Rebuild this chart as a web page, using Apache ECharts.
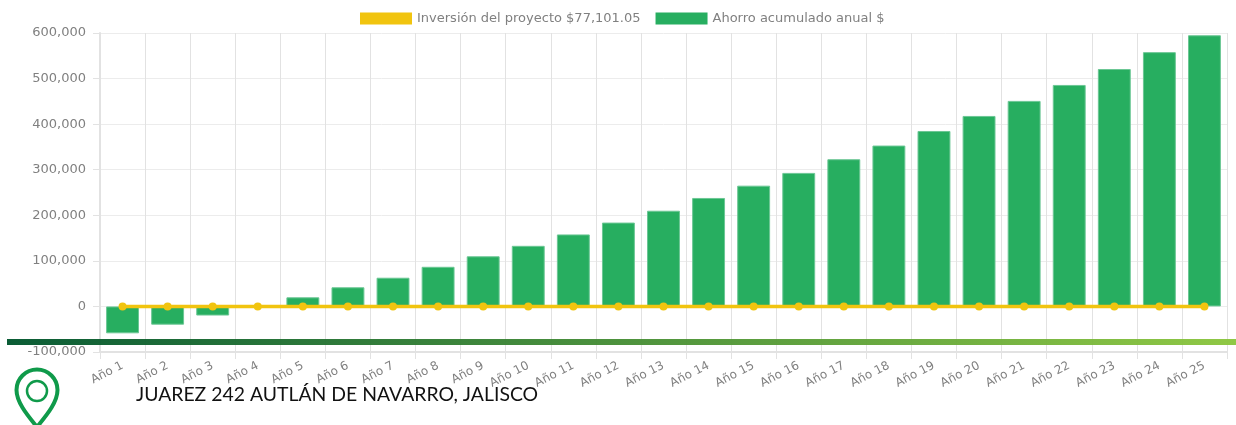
<!DOCTYPE html>
<html>
<head>
<meta charset="utf-8">
<title>Ahorro acumulado</title>
<script src="https://cdn.jsdelivr.net/npm/echarts@6/dist/echarts.min.js"></script>
<style>
  html, body { margin: 0; padding: 0; background: #fff; }
  #chart { width: 1236px; height: 425px; }
</style>
</head>
<body>
<div id="chart"></div>
<script>
const categories = ['Año 1', 'Año 2', 'Año 3', 'Año 4', 'Año 5', 'Año 6', 'Año 7', 'Año 8', 'Año 9', 'Año 10',
  'Año 11', 'Año 12', 'Año 13', 'Año 14', 'Año 15', 'Año 16', 'Año 17', 'Año 18', 'Año 19', 'Año 20',
  'Año 21', 'Año 22', 'Año 23', 'Año 24', 'Año 25'];
const ahorro = [-59000, -40000, -20000, 0, 20000, 42000, 63000, 87000, 110000, 133000,
  158000, 184000, 210000, 238000, 265000, 293000, 323000, 353000, 385000, 418000,
  451000, 486000, 521000, 558000, 595000];
const inversion = [0, 0, 0, 0, 0, 0, 0, 0, 0, 0, 0, 0, 0, 0, 0, 0, 0, 0, 0, 0, 0, 0, 0, 0, 0];
const inversionName = 'Inversión del proyecto $77,101.05';
const ahorroName = 'Ahorro acumulado anual $';
const address = 'JUAREZ 242 AUTLÁN DE NAVARRO, JALISCO';

const chart = echarts.init(document.getElementById('chart'));
const textColor = '#808080';
const gridColor = '#e2e2e2';
const pinStyle = { fill: 'none', stroke: '#0f9a4a', lineWidth: 4 };

chart.setOption({
  animation: false,
  textStyle: { fontFamily: '"DejaVu Sans", sans-serif' },
  legend: {
    top: 7,
    left: 355,
    itemGap: 15,
    itemWidth: 52,
    itemHeight: 12,
    icon: 'rect',
    textStyle: { color: textColor, fontSize: 13 },
    data: [
      { name: inversionName },
      { name: ahorroName, itemStyle: { borderWidth: 0 } }
    ]
  },
  grid: { left: 100, right: 9, top: 33, bottom: 73 },
  xAxis: {
    type: 'category',
    data: categories,
    axisTick: { show: true, alignWithLabel: false, length: 7, lineStyle: { color: gridColor } },
    axisLine: { onZero: false, lineStyle: { color: gridColor, width: 2 } },
    splitLine: { show: true, lineStyle: { color: gridColor } },
    axisLabel: { rotate: 27, interval: 0, color: textColor, fontSize: 12, margin: 13 }
  },
  yAxis: {
    type: 'value',
    min: -100000,
    max: 600000,
    interval: 100000,
    axisLine: { show: true, lineStyle: { color: gridColor, width: 2 } },
    axisTick: { show: true, length: 7, lineStyle: { color: gridColor } },
    splitLine: { lineStyle: { color: '#ececec' } },
    axisLabel: {
      color: textColor,
      fontSize: 13,
      margin: 14,
      formatter: v => v.toLocaleString('en-US')
    }
  },
  series: [
    {
      name: ahorroName,
      type: 'bar',
      data: ahorro,
      barWidth: '73%',
      itemStyle: { color: '#27ae60', borderColor: '#6cc795', borderWidth: 1 },
      z: 2
    },
    {
      name: inversionName,
      type: 'line',
      data: inversion,
      symbol: 'circle',
      symbolSize: 8,
      lineStyle: { color: '#f1c40f', width: 3.5 },
      itemStyle: { color: '#f1c40f' },
      z: 3
    }
  ],
  graphic: [
    // franja verde del membrete
    {
      type: 'rect',
      z: 10,
      shape: { x: 7, y: 339, width: 1229, height: 6 },
      style: {
        fill: new echarts.graphic.LinearGradient(0, 0, 1, 0, [
          { offset: 0, color: '#03572f' },
          { offset: 1, color: '#8cc63f' }
        ]),
        opacity: 0.97
      }
    },
    // icono de ubicacion
    {
      type: 'arc',
      z: 10,
      shape: { cx: 37, cy: 390, r: 20.5, startAngle: Math.PI, endAngle: 2 * Math.PI, clockwise: true },
      style: pinStyle
    },
    {
      type: 'bezierCurve',
      z: 10,
      shape: { x1: 16.5, y1: 390, cpx1: 16.5, cpy1: 403, cpx2: 29, cpy2: 417, x2: 37, y2: 427 },
      style: pinStyle
    },
    {
      type: 'bezierCurve',
      z: 10,
      shape: { x1: 57.5, y1: 390, cpx1: 57.5, cpy1: 403, cpx2: 45, cpy2: 417, x2: 37, y2: 427 },
      style: pinStyle
    },
    {
      type: 'circle',
      z: 10,
      shape: { cx: 37, cy: 391, r: 10 },
      style: { fill: 'none', stroke: '#0f9a4a', lineWidth: 2.5 }
    },
    {
      type: 'text',
      z: 10,
      x: 136,
      y: 385,
      style: {
        text: address,
        fill: '#111',
        fontFamily: 'Lato, "Open Sans", sans-serif',
        fontSize: 19.4
      }
    }
  ]
});

window.addEventListener('resize', () => chart.resize());
</script>
</body>
</html>
